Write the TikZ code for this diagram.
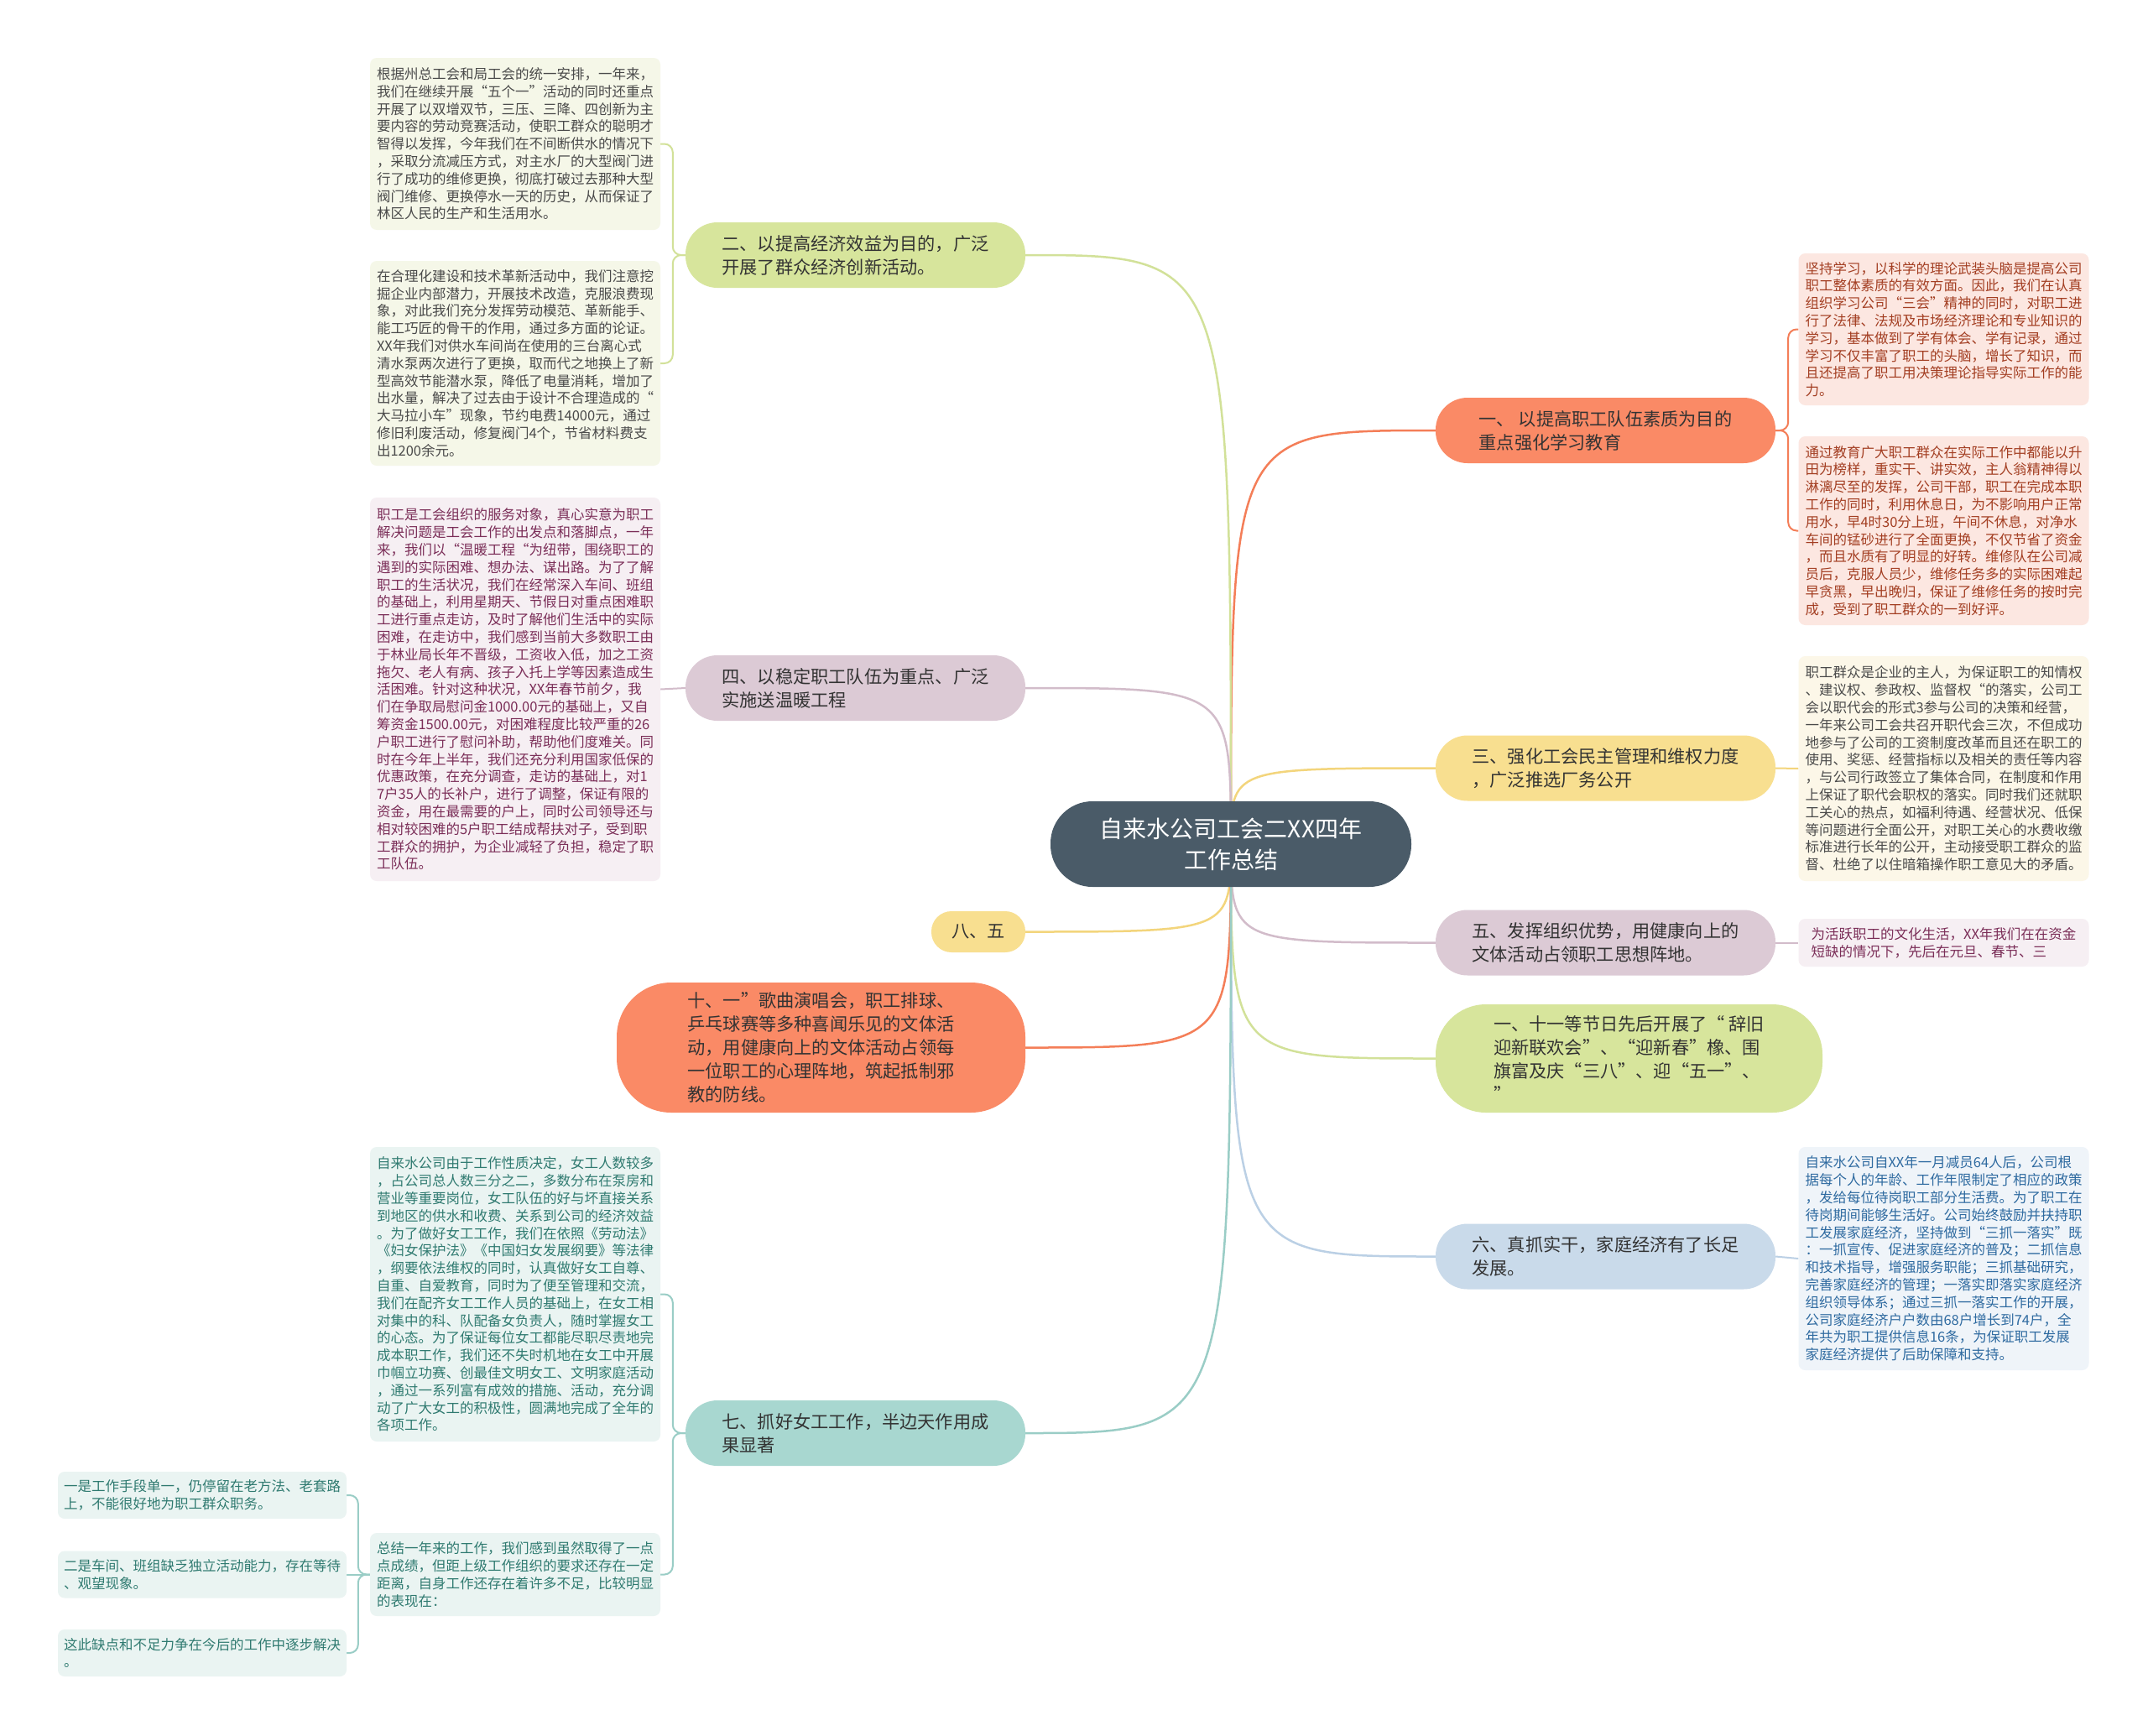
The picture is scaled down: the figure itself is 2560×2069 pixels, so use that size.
\documentclass[tikz,border=0pt]{standalone}
\usepackage{fontspec}
\setmainfont{Noto Sans CJK SC}
\usepackage{xcolor}
\usepackage{tikz}
\usetikzlibrary{positioning}
\definecolor{rootgray}{HTML}{4A5B68}
\definecolor{textdark}{HTML}{333333}
\definecolor{corange}{HTML}{FA8A66}
\definecolor{cyellow}{HTML}{F8DF90}
\definecolor{cmauve}{HTML}{DCCAD5}
\definecolor{cgreen}{HTML}{D7E59C}
\definecolor{cblue}{HTML}{C9DAEA}
\definecolor{cteal}{HTML}{A8D7D0}
\definecolor{lorange}{HTML}{F47E58}
\definecolor{lyellow}{HTML}{F3D57C}
\definecolor{lmauve}{HTML}{D2BCCA}
\definecolor{lgreen}{HTML}{D2E199}
\definecolor{lblue}{HTML}{BBD0E5}
\definecolor{lteal}{HTML}{9ACDC6}
\definecolor{fgreen}{HTML}{F5F7E8}
\definecolor{fpink}{HTML}{F6EFF3}
\definecolor{fteal}{HTML}{EAF4F2}
\definecolor{forange}{HTML}{FCE7E1}
\definecolor{fyellow}{HTML}{FCF7E8}
\definecolor{fblue}{HTML}{EFF4F9}
\definecolor{tgray}{HTML}{4A4A4A}
\definecolor{tmaroon}{HTML}{7B2E58}
\definecolor{tteal}{HTML}{2F7A70}
\definecolor{tbrown}{HTML}{A33E22}
\definecolor{tblue}{HTML}{2E6AA0}
\pgfdeclarelayer{bg}
\pgfsetlayers{bg,main}

\begin{document}
\begin{tikzpicture}[
    x=1pt, y=-1pt,
    rootbox/.style={fill=rootgray, text=white, rounded corners=50pt, minimum width=430pt, minimum height=102pt, align=center, font=\fontsize{28}{37}\selectfont},
    branchbox/.style={rounded corners=38pt, minimum width=405pt, minimum height=78pt, align=left, text=textdark, font=\fontsize{21.2}{28}\selectfont},
    leafbox/.style={rounded corners=8pt, minimum width=346pt, inner sep=0pt, align=left, font=\fontsize{16.5}{20.8}\selectfont},
    link/.style={line width=2.5pt},
    leaflink/.style={line width=2pt, rounded corners=10pt},
]
    \useasboundingbox (0,0) rectangle (2560,2069);

    % Root
    \node[rootbox] (root) at (1467,1006) {自来水公司工会二XX四年\\工作总结};

    % Right branches
    \node[branchbox, fill=corange] (b1) at (1913.5,513) {一、\ 以提高职工队伍素质为目的\\重点强化学习教育};
    \node[branchbox, fill=cyellow] (b3) at (1913.5,915.5) {三、强化工会民主管理和维权力度\\，广泛推选厂务公开};
    \node[branchbox, fill=cmauve] (b5) at (1913.5,1123.5) {五、发挥组织优势，用健康向上的\\文体活动占领职工思想阵地。};
    \node[branchbox, fill=cgreen, minimum width=461pt, minimum height=129pt, rounded corners=60pt] (b11) at (1941.5,1261.5) {一、十一等节日先后开展了“ 辞旧\\迎新联欢会”、“迎新春”橡、围\\旗富及庆“三八”、迎“五一”、\\”};
    \node[branchbox, fill=cblue] (b6) at (1913.5,1497.5) {六、真抓实干，家庭经济有了长足\\发展。};

    % Left branches
    \node[branchbox, fill=cgreen] (b2) at (1019.5,304) {二、以提高经济效益为目的，广泛\\开展了群众经济创新活动。};
    \node[branchbox, fill=cmauve] (b4) at (1019.5,820) {四、以稳定职工队伍为重点、广泛\\实施送温暖工程};
    \node[branchbox, fill=cyellow, minimum width=112pt, minimum height=49pt, rounded corners=24pt] (b8) at (1166,1110.5) {八、五};
    \node[branchbox, fill=corange, minimum width=487pt, minimum height=155pt, rounded corners=65pt] (b10) at (978.5,1248.5) {十、一”歌曲演唱会，职工排球、\\乒乓球赛等多种喜闻乐见的文体活\\动，用健康向上的文体活动占领每\\一位职工的心理阵地，筑起抵制邪\\教的防线。};
    \node[branchbox, fill=cteal] (b7) at (1019.5,1708) {七、抓好女工工作，半边天作用成\\果显著};

    % Leaves of b2
    \node[leafbox, fill=fgreen, text=tgray, minimum height=205pt] (l1) at (614,171.5) {根据州总工会和局工会的统一安排，一年来，\\我们在继续开展“五个一”活动的同时还重点\\开展了以双增双节，三压、三降、四创新为主\\要内容的劳动竞赛活动，使职工群众的聪明才\\智得以发挥，今年我们在不间断供水的情况下\\，采取分流减压方式，对主水厂的大型阀门进\\行了成功的维修更换，彻底打破过去那种大型\\阀门维修、更换停水一天的历史，从而保证了\\林区人民的生产和生活用水。};
    \node[leafbox, fill=fgreen, text=tgray, minimum height=244pt] (l2) at (614,433) {在合理化建设和技术革新活动中，我们注意挖\\掘企业内部潜力，开展技术改造，克服浪费现\\象，对此我们充分发挥劳动模范、革新能手、\\能工巧匠的骨干的作用，通过多方面的论证。\\XX年我们对供水车间尚在使用的三台离心式\\清水泵两次进行了更换，取而代之地换上了新\\型高效节能潜水泵，降低了电量消耗，增加了\\出水量，解决了过去由于设计不合理造成的“\\大马拉小车”现象，节约电费14000元，通过\\修旧利废活动，修复阀门4个，节省材料费支\\出1200余元。};

    % Leaf of b4
    \node[leafbox, fill=fpink, text=tmaroon, minimum height=457pt] (l3) at (614,821.5) {职工是工会组织的服务对象，真心实意为职工\\解决问题是工会工作的出发点和落脚点，一年\\来，我们以“温暖工程“为纽带，围绕职工的\\遇到的实际困难、想办法、谋出路。为了了解\\职工的生活状况，我们在经常深入车间、班组\\的基础上，利用星期天、节假日对重点困难职\\工进行重点走访，及时了解他们生活中的实际\\困难，在走访中，我们感到当前大多数职工由\\于林业局长年不晋级，工资收入低，加之工资\\拖欠、老人有病、孩子入托上学等因素造成生\\活困难。针对这种状况，XX年春节前夕，我\\们在争取局慰问金1000.00元的基础上，又自\\筹资金1500.00元，对困难程度比较严重的26\\户职工进行了慰问补助，帮助他们度难关。同\\时在今年上半年，我们还充分利用国家低保的\\优惠政策，在充分调查，走访的基础上，对1\\7户35人的长补户，进行了调整，保证有限的\\资金，用在最需要的户上，同时公司领导还与\\相对较困难的5户职工结成帮扶对子，受到职\\工群众的拥护，为企业减轻了负担，稳定了职\\工队伍。};

    % Leaves of b7
    \node[leafbox, fill=fteal, text=tteal, minimum height=351pt] (l4) at (614,1542.5) {自来水公司由于工作性质决定，女工人数较多\\，占公司总人数三分之二，多数分布在泵房和\\营业等重要岗位，女工队伍的好与坏直接关系\\到地区的供水和收费、关系到公司的经济效益\\。为了做好女工工作，我们在依照《劳动法》\\《妇女保护法》《中国妇女发展纲要》等法律\\，纲要依法维权的同时，认真做好女工自尊、\\自重、自爱教育，同时为了便至管理和交流，\\我们在配齐女工工作人员的基础上，在女工相\\对集中的科、队配备女负责人，随时掌握女工\\的心态。为了保证每位女工都能尽职尽责地完\\成本职工作，我们还不失时机地在女工中开展\\巾帼立功赛、创最佳文明女工、文明家庭活动\\，通过一系列富有成效的措施、活动，充分调\\动了广大女工的积极性，圆满地完成了全年的\\各项工作。};
    \node[leafbox, fill=fteal, text=tteal, minimum height=99pt] (l5) at (614,1876.5) {总结一年来的工作，我们感到虽然取得了一点\\点成绩，但距上级工作组织的要求还存在一定\\距离，自身工作还存在着许多不足，比较明显\\的表现在：};
    \node[leafbox, fill=fteal, text=tteal, minimum width=344pt, minimum height=56pt] (ll1) at (241,1782) {一是工作手段单一，仍停留在老方法、老套路\\上，不能很好地为职工群众职务。};
    \node[leafbox, fill=fteal, text=tteal, minimum width=344pt, minimum height=56pt] (ll2) at (241,1876.5) {二是车间、班组缺乏独立活动能力，存在等待\\、观望现象。};
    \node[leafbox, fill=fteal, text=tteal, minimum width=344pt, minimum height=56pt] (ll3) at (241,1970) {这此缺点和不足力争在今后的工作中逐步解决\\。};

    % Leaves of right branches
    \node[leafbox, fill=forange, text=tbrown, minimum height=181pt] (r1) at (2316.5,392.5) {坚持学习，以科学的理论武装头脑是提高公司\\职工整体素质的有效方面。因此，我们在认真\\组织学习公司“三会”精神的同时，对职工进\\行了法律、法规及市场经济理论和专业知识的\\学习，基本做到了学有体会、学有记录，通过\\学习不仅丰富了职工的头脑，增长了知识，而\\且还提高了职工用决策理论指导实际工作的能\\力。};
    \node[leafbox, fill=forange, text=tbrown, minimum height=225pt] (r2) at (2316.5,632.5) {通过教育广大职工群众在实际工作中都能以升\\田为榜样，重实干、讲实效，主人翁精神得以\\淋漓尽至的发挥，公司干部，职工在完成本职\\工作的同时，利用休息日，为不影响用户正常\\用水，早4时30分上班，午间不休息，对净水\\车间的锰砂进行了全面更换，不仅节省了资金\\，而且水质有了明显的好转。维修队在公司减\\员后，克服人员少，维修任务多的实际困难起\\早贪黑，早出晚归，保证了维修任务的按时完\\成，受到了职工群众的一到好评。};
    \node[leafbox, fill=fyellow, text=tgray, minimum height=268pt] (r3) at (2316.5,916) {职工群众是企业的主人，为保证职工的知情权\\、建议权、参政权、监督权“的落实，公司工\\会以职代会的形式3参与公司的决策和经营，\\一年来公司工会共召开职代会三次，不但成功\\地参与了公司的工资制度改革而且还在职工的\\使用、奖惩、经营指标以及相关的责任等内容\\，与公司行政签立了集体合同，在制度和作用\\上保证了职代会职权的落实。同时我们还就职\\工关心的热点，如福利待遇、经营状况、低保\\等问题进行全面公开，对职工关心的水费收缴\\标准进行长年的公开，主动接受职工群众的监\\督、杜绝了以住暗箱操作职工意见大的矛盾。};
    \node[leafbox, fill=fpink, text=tmaroon, minimum height=57pt] (r4) at (2316.5,1123.5) {为活跃职工的文化生活，XX年我们在在资金\\短缺的情况下，先后在元旦、春节、三};
    \node[leafbox, fill=fblue, text=tblue, minimum height=266pt] (r5) at (2316.5,1500) {自来水公司自XX年一月减员64人后，公司根\\据每个人的年龄、工作年限制定了相应的政策\\，发给每位待岗职工部分生活费。为了职工在\\待岗期间能够生活好。公司始终鼓励并扶持职\\工发展家庭经济，坚持做到“三抓一落实”既\\：一抓宣传、促进家庭经济的普及；二抓信息\\和技术指导，增强服务职能；三抓基础研究，\\完善家庭经济的管理；一落实即落实家庭经济\\组织领导体系；通过三抓一落实工作的开展，\\公司家庭经济户户数由68户增长到74户，全\\年共为职工提供信息16条，为保证职工发展\\家庭经济提供了后助保障和支持。};

    % Connectors
    \begin{pgfonlayer}{bg}
    \fill[white] (0,0) rectangle (2560,2069);
    \draw[link, lorange] (root.center) .. controls (root.center |- b1.west) .. (b1.west);
    \draw[link, lyellow] (root.center) .. controls (root.center |- b3.west) .. (b3.west);
    \draw[link, lmauve] (root.center) .. controls (root.center |- b5.west) .. (b5.west);
    \draw[link, lgreen] (root.center) .. controls (root.center |- b11.west) .. (b11.west);
    \draw[link, lblue] (root.center) .. controls (root.center |- b6.west) .. (b6.west);
    \draw[link, lgreen] (root.center) .. controls (root.center |- b2.east) .. (b2.east);
    \draw[link, lmauve] (root.center) .. controls (root.center |- b4.east) .. (b4.east);
    \draw[link, lyellow] (root.center) .. controls (root.center |- b8.east) .. (b8.east);
    \draw[link, lorange] (root.center) .. controls (root.center |- b10.east) .. (b10.east);
    \draw[link, lteal] (root.center) .. controls (root.center |- b7.east) .. (b7.east);

    \draw[leaflink, lgreen] (b2.west) -- ++(-15,0) |- (l1.east);
    \draw[leaflink, lgreen] (b2.west) -- ++(-15,0) |- (l2.east);
    \draw[leaflink, lmauve] (b4.west) -- (l3.east);
    \draw[leaflink, lteal] (b7.west) -- ++(-15,0) |- (l4.east);
    \draw[leaflink, lteal] (b7.west) -- ++(-15,0) |- (l5.east);
    \draw[leaflink, lteal] (l5.west) -- ++(-14,0) |- (ll1.east);
    \draw[leaflink, lteal] (l5.west) -- (ll2.east);
    \draw[leaflink, lteal] (l5.west) -- ++(-14,0) |- (ll3.east);
    \draw[leaflink, lorange] (b1.east) -- ++(15,0) |- (r1.west);
    \draw[leaflink, lorange] (b1.east) -- ++(15,0) |- (r2.west);
    \draw[leaflink, lyellow] (b3.east) -- (r3.west);
    \draw[leaflink, lmauve] (b5.east) -- (r4.west);
    \draw[leaflink, lblue] (b6.east) -- (r5.west);
    \end{pgfonlayer}
\end{tikzpicture}
\end{document}
